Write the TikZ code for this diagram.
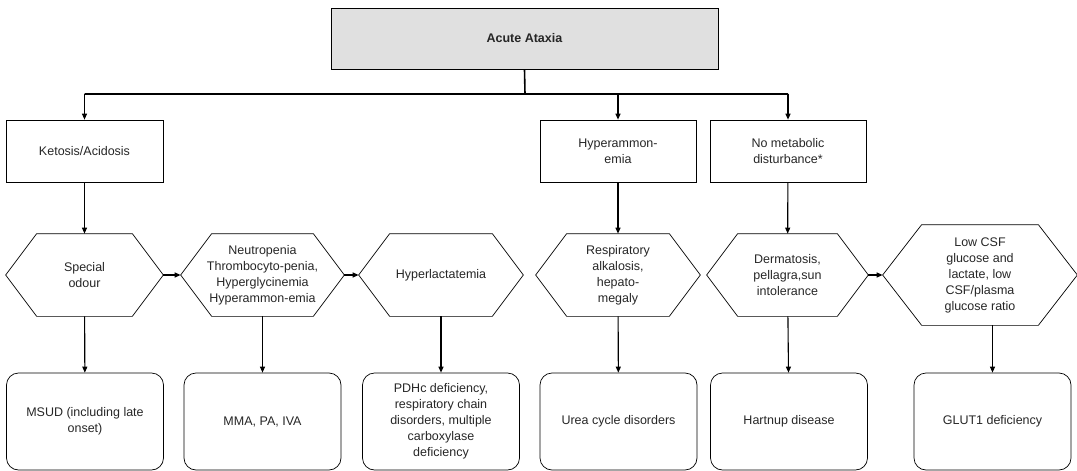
\documentclass[tikz,border=0pt]{standalone}
\usepackage{fontspec}
\setmainfont{Liberation Sans}
\usetikzlibrary{arrows.meta}

\begin{document}
\begin{tikzpicture}[x=1pt,y=-1pt,line width=0.7pt,>={Triangle[length=6pt,width=5pt]},
  every node/.style={draw,align=center,inner sep=0pt,text=black!85,font=\fontsize{12.5}{16}\selectfont},
  hexa/.style={draw=none,minimum width=#1,minimum height=82pt},
  result/.style={rounded corners=12pt,minimum width=157pt,minimum height=97pt},
  link/.style={->,line width=1.1pt}]
\useasboundingbox (0,0) rectangle (1077,471);
\node[fill=black!12,minimum width=387pt,minimum height=61pt] at(524.5,38.5)(ataxia){\textbf{Acute Ataxia}};
\coordinate (bus) at (525,94);
\node[minimum width=157pt,minimum height=62pt] at(84.5,151)(keto){Ketosis/Acidosis};
\node[minimum width=156pt,minimum height=62pt] at(618,151)(hyper){Hyperammon-\\emia};
\node[minimum width=156pt,minimum height=62pt] at(788,151)(nometa){No metabolic\\disturbance*};
\node[hexa=157pt] at(84.5,275)(odour){Special\\odour};
\node[hexa=163pt] at(262.5,275)(neutro){Neutropenia\\Thrombocyto-penia,\\Hyperglycinemia\\Hyperammon-emia};
\node[hexa=164pt] at(441,275)(lact){Hyperlactatemia};
\node[hexa=164pt] at(618,275)(resp){Respiratory\\alkalosis,\\hepato-\\megaly};
\node[hexa=161pt] at(787.5,275)(derm){Dermatosis,\\pellagra,sun\\intolerance};
\node[hexa=194pt,minimum height=100pt] at(980,275)(csf){Low CSF\\glucose and\\lactate, low\\CSF/plasma\\glucose ratio};
\node[result] at(85,421.5)(msud){MSUD (including late\\onset)};
\node[result] at(262.5,421.5)(mma){MMA, PA, IVA};
\node[result] at(441,421.5)(pdhc){PDHc deficiency,\\respiratory chain\\disorders, multiple\\carboxylase\\deficiency};
\node[result] at(618.5,421.5)(urea){Urea cycle disorders};
\node[result] at(789,421.5)(hart){Hartnup disease};
\node[result] at(992.5,421.5)(glut){GLUT1 deficiency};
% hexagon outlines
\foreach \h/\d in {odour/31,neutro/31,lact/31,resp/31,derm/31,csf/39}
  \draw (\h.west) -- ([xshift=\d pt]\h.north west) -- ([xshift=-\d pt]\h.north east) -- (\h.east)
    -- ([xshift=-\d pt]\h.south east) -- ([xshift=\d pt]\h.south west) -- cycle;
\draw[line width=1.6pt] (ataxia.south) -- (bus) (bus -| keto.north) -- (bus -| nometa.north);
\foreach \t in {keto,hyper,nometa}
  \draw[link] (bus -| \t.north) -- (\t.north);
\path[link] (keto)edge(odour) (hyper)edge(resp) (nometa)edge(derm)
  (odour)edge(neutro) (neutro)edge(lact) (derm)edge(csf)
  (odour)edge(msud) (neutro)edge(mma) (lact)edge(pdhc) (resp)edge(urea) (derm)edge(hart);
\draw[link] (csf.south -| glut.north) -- (glut.north);
\end{tikzpicture}
\end{document}
